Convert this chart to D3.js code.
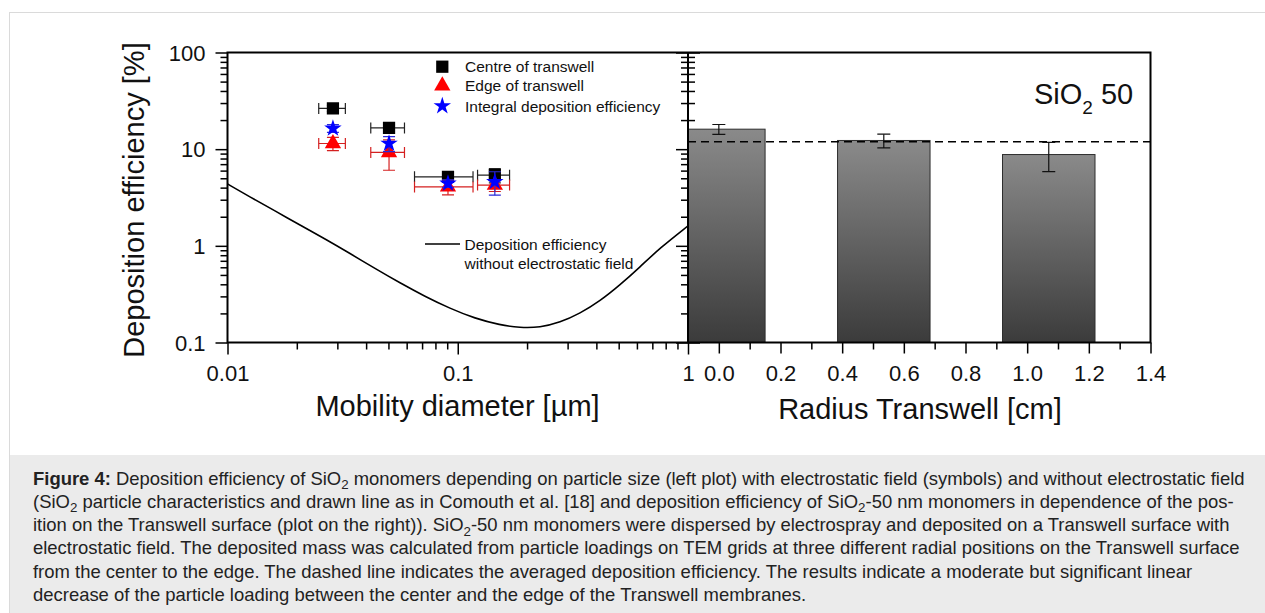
<!DOCTYPE html>
<html><head><meta charset="utf-8">
<script src="https://cdn.jsdelivr.net/npm/d3@7"></script>
<style>
body{margin:0;background:#fff;}
svg{display:block;font-family:"Liberation Sans",Arial,Helvetica,sans-serif;}
</style>
</head><body>
<svg id="c" width="1265" height="613"></svg>
<script>
// ---------------- data ----------------
const diameters   = [0.0287, 0.0503, 0.0907, 0.1449];   // mobility diameter [µm]
const diameterErr = [0.0038, 0.0084, 0.0258, 0.0230];
const centreEff   = [26.4, 16.6, 5.17, 5.38];
const centreErr   = [2.0, 1.5, 0.5, 0.9];
const edgeEff     = [11.45, 9.25, 4.07, 4.25];
const edgeErr     = [1.8, 3.2, 0.7, 0.6];
const integralEff = [16.4, 11.45, 4.42, 4.59];
const integralErr = [1.5, 2.0, 0.4, 1.25];

// deposition efficiency without electrostatic field (line)
const lineDiam = [0.01, 0.01252, 0.01608, 0.02065, 0.02652, 0.03404, 0.04371, 0.05614, 0.07208, 0.09254,
                  0.1188, 0.1526, 0.1864, 0.2276, 0.2781, 0.3396, 0.4148, 0.5067, 0.6186, 0.7557, 1.0];
const lineEff  = [4.37, 3.20, 2.30, 1.64, 1.18, 0.834, 0.583, 0.413, 0.2995, 0.225,
                  0.1773, 0.1518, 0.1421, 0.1431, 0.1612, 0.1998, 0.269, 0.394, 0.604, 0.951, 1.61];

// right panel: radial positions
const radiusPos = [0.0, 0.535, 1.07];
const radialEff = [16.1, 12.3, 8.8];
const radialErr = [1.9, 2.0, 2.95];
const avgEff    = 11.9;

// ticks / labels
const yTicks       = [0.1, 1, 10, 100];
const yTickLabels  = ["0.1", "1", "10", "100"];
const xLeftTicks   = [0.01, 0.1, 1];
const xLeftLabels  = ["0.01", "0.1", "1"];
const xRightTicks  = [0, 0.2, 0.4, 0.6, 0.8, 1.0, 1.2, 1.4];
const xRightLabels = ["0.0", "0.2", "0.4", "0.6", "0.8", "1.0", "1.2", "1.4"];
const xRightMinor  = [0.1, 0.3, 0.5, 0.7, 0.9, 1.1, 1.3];
const legendLabels = ["Centre of transwell", "Edge of transwell", "Integral deposition efficiency"];
const lineLegend   = ["Deposition efficiency", "without electrostatic field"];

const captionLines = [
  [["Figure 4:", "b"], [" Deposition efficiency of SiO", ""], ["2", "sub"], [" monomers depending on particle size (left plot) with electrostatic field (symbols) and without electrostatic field", ""]],
  [["(SiO", ""], ["2", "sub"], [" particle characteristics and drawn line as in Comouth et al. [18] and deposition efficiency of SiO", ""], ["2", "sub"], ["-50 nm monomers in dependence of the pos-", ""]],
  [["ition on the Transwell surface (plot on the right)). SiO", ""], ["2", "sub"], ["-50 nm monomers were dispersed by electrospray and deposited on a Transwell surface with", ""]],
  [["electrostatic field. The deposited mass was calculated from particle loadings on TEM grids at three different radial positions on the Transwell surface", ""]],
  [["from the center to the edge. The dashed line indicates the averaged deposition efficiency. The results indicate a moderate but significant linear", ""]],
  [["decrease of the particle loading between the center and the edge of the Transwell membranes.", ""]]
];

// ---------------- layout ----------------
const svg = d3.select("#c");
const pTop = 52.5, pBot = 342.5, lx0 = 227.5, mid = 688, rx1 = 1150.5;

const xL = d3.scaleLog().domain([0.01, 1]).range([lx0, mid]);
const xR = d3.scaleLinear().domain([-0.1, 1.4]).range([mid, rx1]);
const y  = d3.scaleLog().domain([0.1, 100]).range([pBot, pTop]);

// outer frame + caption box
svg.append("rect").attr("x", 9).attr("y", 455).attr("width", 1256).attr("height", 158).attr("fill", "#ebebeb");
svg.append("line").attr("x1", 9).attr("x2", 1265).attr("y1", 12.5).attr("y2", 12.5).attr("stroke", "#dadada");
svg.append("line").attr("x1", 9.5).attr("x2", 9.5).attr("y1", 12).attr("y2", 613).attr("stroke", "#dadada");

const defs = svg.append("defs");
defs.append("clipPath").attr("id", "clipL").append("rect")
  .attr("x", lx0).attr("y", pTop).attr("width", mid - lx0).attr("height", pBot - pTop);
defs.append("clipPath").attr("id", "clipR").append("rect")
  .attr("x", mid).attr("y", pTop).attr("width", rx1 - mid).attr("height", pBot - pTop);
const grad = defs.append("linearGradient").attr("id", "barGrad")
  .attr("x1", 0).attr("y1", 0).attr("x2", 0).attr("y2", 1);
grad.append("stop").attr("offset", "0%").attr("stop-color", "#8a8a8a");
grad.append("stop").attr("offset", "100%").attr("stop-color", "#3b3b3b");

// minor tick values for log axes
function logMinor(lo, hi) {
  const out = [];
  for (let d = lo; d < hi * 0.999; d *= 10) for (let k = 2; k <= 9; k++) out.push(d * k);
  return out;
}
const yMinor = logMinor(0.1, 100);
const xLMinor = logMinor(0.01, 1);

function styleAxis(g) {
  g.select(".domain").remove();
  g.selectAll(".tick line").attr("stroke", "#000").attr("stroke-width", 1.5);
  g.selectAll("text").attr("font-size", 22).attr("fill", "#111").attr("font-family", "Liberation Sans, Arial, sans-serif");
}

// ---- left y axis
const gyMaj = svg.append("g").attr("transform", `translate(${lx0},0)`)
  .call(d3.axisLeft(y).tickValues(yTicks).tickSize(12).tickPadding(10).tickFormat((d, i) => yTickLabels[i]));
styleAxis(gyMaj);
gyMaj.selectAll("text").attr("dy", "0.35em");
const gyMin = svg.append("g").attr("transform", `translate(${lx0},0)`)
  .call(d3.axisLeft(y).tickValues(yMinor).tickSize(7).tickFormat(""));
styleAxis(gyMin);

// ticks on the divider (both sides)
const gdL = svg.append("g").attr("transform", `translate(${mid},0)`)
  .call(d3.axisLeft(y).tickValues(yTicks).tickSize(12).tickFormat(""));
styleAxis(gdL);
const gdL2 = svg.append("g").attr("transform", `translate(${mid},0)`)
  .call(d3.axisLeft(y).tickValues(yMinor).tickSize(7).tickFormat(""));
styleAxis(gdL2);
const gdR = svg.append("g").attr("transform", `translate(${mid},0)`)
  .call(d3.axisRight(y).tickValues(yTicks).tickSize(12).tickFormat(""));
styleAxis(gdR);
const gdR2 = svg.append("g").attr("transform", `translate(${mid},0)`)
  .call(d3.axisRight(y).tickValues(yMinor).tickSize(7).tickFormat(""));
styleAxis(gdR2);

// ---- left x axis
const gxL = svg.append("g").attr("transform", `translate(0,${pBot})`)
  .call(d3.axisBottom(xL).tickValues(xLeftTicks).tickSize(12).tickFormat((d, i) => xLeftLabels[i]));
styleAxis(gxL);
gxL.selectAll("text").attr("y", 38.5).attr("dy", 0);
const gxLm = svg.append("g").attr("transform", `translate(0,${pBot})`)
  .call(d3.axisBottom(xL).tickValues(xLMinor).tickSize(7).tickFormat(""));
styleAxis(gxLm);

// ---- right x axis
const gxR = svg.append("g").attr("transform", `translate(0,${pBot})`)
  .call(d3.axisBottom(xR).tickValues(xRightTicks).tickSize(11).tickFormat((d, i) => xRightLabels[i]));
styleAxis(gxR);
gxR.selectAll("text").attr("y", 38.5).attr("dy", 0);
const gxRm = svg.append("g").attr("transform", `translate(0,${pBot})`)
  .call(d3.axisBottom(xR).tickValues(xRightMinor).tickSize(7).tickFormat(""));
styleAxis(gxRm);

// ---- right panel bars
const gR = svg.append("g").attr("clip-path", "url(#clipR)");
const barHalf = 0.15;
gR.selectAll("rect.bar").data(radiusPos).join("rect").attr("class", "bar")
  .attr("x", d => xR(d - barHalf))
  .attr("width", d => xR(d + barHalf) - xR(d - barHalf))
  .attr("y", (d, i) => y(radialEff[i]))
  .attr("height", (d, i) => y(0.1) - y(radialEff[i]))
  .attr("fill", "url(#barGrad)").attr("stroke", "#2e2e2e").attr("stroke-width", 1);
gR.append("line").attr("x1", mid).attr("x2", rx1).attr("y1", y(avgEff)).attr("y2", y(avgEff))
  .attr("stroke", "#000").attr("stroke-width", 1.5).attr("stroke-dasharray", "8,5");
radiusPos.forEach((p, i) => {
  const cx = xR(p), y1 = y(radialEff[i] + radialErr[i]), y2 = y(radialEff[i] - radialErr[i]);
  gR.append("line").attr("x1", cx).attr("x2", cx).attr("y1", y1).attr("y2", y2).attr("stroke", "#111").attr("stroke-width", 1.2);
  [y1, y2].forEach(yy => gR.append("line").attr("x1", cx - 6.5).attr("x2", cx + 6.5).attr("y1", yy).attr("y2", yy)
    .attr("stroke", "#111").attr("stroke-width", 1.2));
});

// ---- left panel curve
const gL = svg.append("g").attr("clip-path", "url(#clipL)");
const lineGen = d3.line().x(d => xL(d[0])).y(d => y(d[1])).curve(d3.curveBasis);
gL.append("path").datum(lineDiam.map((d, i) => [d, lineEff[i]]))
  .attr("d", lineGen).attr("fill", "none").attr("stroke", "#000").attr("stroke-width", 1.6);

// ---- error bars + symbols
function errBars(vals, errs, color, withX) {
  diameters.forEach((d, i) => {
    const cx = xL(d), cy = y(vals[i]);
    if (withX) {
      const xa = xL(d - diameterErr[i]), xb = xL(d + diameterErr[i]);
      gL.append("line").attr("x1", xa).attr("x2", xb).attr("y1", cy).attr("y2", cy).attr("stroke", color).attr("stroke-width", 1.2);
      [xa, xb].forEach(xx => gL.append("line").attr("x1", xx).attr("x2", xx).attr("y1", cy - 5.5).attr("y2", cy + 5.5)
        .attr("stroke", color).attr("stroke-width", 1.2));
    }
    const ya = y(vals[i] + errs[i]), yb = y(vals[i] - errs[i]);
    gL.append("line").attr("x1", cx).attr("x2", cx).attr("y1", ya).attr("y2", yb).attr("stroke", color).attr("stroke-width", 1.2);
    [ya, yb].forEach(yy => gL.append("line").attr("x1", cx - 6).attr("x2", cx + 6).attr("y1", yy).attr("y2", yy)
      .attr("stroke", color).attr("stroke-width", 1.2));
  });
}
const symSquare = d3.symbol().type(d3.symbolSquare).size(150);
const symTri = d3.symbol().type(d3.symbolTriangle).size(115);
const symStar = d3.symbol().type(d3.symbolStar).size(95);

errBars(centreEff, centreErr, "#222", true);
gL.selectAll("path.sq").data(diameters).join("path").attr("class", "sq")
  .attr("d", symSquare).attr("transform", (d, i) => `translate(${xL(d)},${y(centreEff[i])})`).attr("fill", "#000");
errBars(edgeEff, edgeErr, "#d42020", true);
gL.selectAll("path.tri").data(diameters).join("path").attr("class", "tri")
  .attr("d", symTri).attr("transform", (d, i) => `translate(${xL(d)},${y(edgeEff[i])})`).attr("fill", "#ff0000");
errBars(integralEff, integralErr, "#2a2ad8", false);
gL.selectAll("path.star").data(diameters).join("path").attr("class", "star")
  .attr("d", symStar).attr("transform", (d, i) => `translate(${xL(d)},${y(integralEff[i])})`).attr("fill", "#0000ff");

// ---- legend
const legY = [66.7, 85.7, 106];
const legSym = [symSquare, symTri, symStar];
const legCol = ["#000", "#ff0000", "#0000ff"];
legendLabels.forEach((t, i) => {
  svg.append("path").attr("d", legSym[i]).attr("transform", `translate(442.3,${legY[i]})`).attr("fill", legCol[i]);
  svg.append("text").attr("x", 465).attr("y", legY[i] + 5.5).attr("font-size", 15.5).attr("fill", "#111").text(t);
});
svg.append("line").attr("x1", 425).attr("x2", 460).attr("y1", 244).attr("y2", 244).attr("stroke", "#000").attr("stroke-width", 1.6);
lineLegend.forEach((t, i) => {
  svg.append("text").attr("x", 464.5).attr("y", 249.5 + i * 19.5).attr("font-size", 15.5).attr("fill", "#111").text(t);
});

// ---- panel label
const lab = svg.append("text").attr("x", 1034).attr("y", 104).attr("font-size", 29).attr("fill", "#111");
lab.append("tspan").text("SiO");
lab.append("tspan").attr("font-size", 19).attr("dy", 10).text("2");
lab.append("tspan").attr("dy", -10).text("\u00a050");

// ---- frame
const frame = svg.append("g").attr("fill", "none").attr("stroke", "#000").attr("stroke-width", 2);
frame.append("rect").attr("x", lx0).attr("y", pTop).attr("width", rx1 - lx0).attr("height", pBot - pTop);
frame.append("line").attr("x1", mid).attr("x2", mid).attr("y1", pTop).attr("y2", pBot);

// ---- axis titles
svg.append("text").attr("transform", "translate(143.5,200) rotate(-90)").attr("text-anchor", "middle")
  .attr("font-size", 29).attr("fill", "#111").text("Deposition efficiency [%]");
svg.append("text").attr("x", 457.5).attr("y", 416).attr("text-anchor", "middle")
  .attr("font-size", 29).attr("fill", "#111").text("Mobility diameter [µm]");
svg.append("text").attr("x", 920).attr("y", 419).attr("text-anchor", "middle")
  .attr("font-size", 29).attr("fill", "#111").text("Radius Transwell [cm]");

// ---- caption
const capBase = [484.7, 507.9, 531.1, 554.3, 577.5, 600.7];
const capNodes = [];
captionLines.forEach((segs, li) => {
  const t = svg.append("text").attr("x", 0).attr("y", 0).attr("font-size", 18).attr("fill", "#222")
    .style("white-space", "pre");
  let shifted = false;
  segs.forEach(([txt, st]) => {
    const ts = t.append("tspan").text(txt);
    if (st === "b") ts.attr("font-weight", "bold");
    if (st === "sub") { ts.attr("font-size", 13).attr("dy", 4.5); shifted = true; }
    else if (shifted) { ts.attr("dy", -4.5); shifted = false; }
  });
  capNodes.push(t);
});
const w0 = capNodes[0].node().getComputedTextLength();
const sx = (1245 - 33) / w0;
capNodes.forEach((t, i) => t.attr("transform", `translate(33,${capBase[i]}) scale(${sx},1)`));
</script>
</body></html>
